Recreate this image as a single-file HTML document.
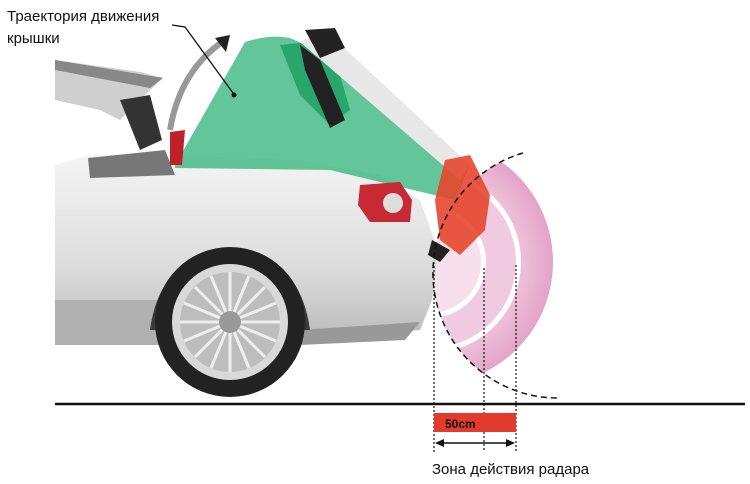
<!DOCTYPE html>
<html><head><meta charset="utf-8"><style>
html,body{margin:0;padding:0;background:#fff;width:750px;height:484px;overflow:hidden}
svg{display:block}
text{font-family:"Liberation Sans","Noto Sans CJK SC",sans-serif}
</style></head><body>
<svg width="750" height="484" viewBox="0 0 750 484" xmlns="http://www.w3.org/2000/svg">
<defs>
<clipPath id="dc"><circle cx="558" cy="273" r="125"/></clipPath>
<linearGradient id="body" x1="0" y1="0" x2="0" y2="1">
<stop offset="0" stop-color="#f4f4f4"/><stop offset="0.6" stop-color="#dcdcdc"/><stop offset="1" stop-color="#b8b8b8"/></linearGradient>
<radialGradient id="pk" cx="430" cy="262" r="123" gradientUnits="userSpaceOnUse">
<stop offset="0.7" stop-color="#f0c4dc"/><stop offset="1" stop-color="#e3a3c9"/></radialGradient>
</defs>
<!-- roof -->
<path d="M55 60 L140 72 L163 78 L145 95 L120 120 L100 110 L55 100Z" fill="#cfcfcf"/>
<path d="M55 60 L163 78 L150 88 L55 70Z" fill="#888"/>
<path d="M120 100 L150 95 L162 140 L140 150Z" fill="#333"/>
<!-- radar bands -->
<g clip-path="url(#dc)">
<circle cx="430" cy="262" r="123" fill="url(#pk)"/>
<circle cx="430" cy="262" r="91" fill="#fff"/>
<circle cx="430" cy="262" r="86" fill="#f0cae0"/>
<circle cx="430" cy="262" r="56" fill="#fff"/>
<circle cx="430" cy="262" r="51" fill="#f7dfec"/>
</g>
<!-- body -->
<path d="M55 165 L90 155 L170 155 L300 160 L380 175 L420 200 L438 250 L432 300 L420 330 L300 340 L160 345 L55 345Z" fill="url(#body)"/>
<path d="M88 158 L165 150 L175 175 L90 178Z" fill="#777"/>
<path d="M55 300 L170 300 L165 345 L55 345Z" fill="#b0b0b0"/>
<path d="M300 330 L420 322 L405 340 L300 345Z" fill="#999"/>
<!-- green sector -->
<path d="M175 165 L245 42 Q270 34 290 38 L340 60 L470 165 L455 200 L330 170 L175 168Z" fill="#2fb178" opacity="0.75"/>
<path d="M280 45 L330 40 L350 110 L330 125 L300 95Z" fill="#1a9d60" opacity="0.8"/>
<!-- lid -->
<path d="M300 42 L325 30 L470 165 L460 180Z" fill="#e8e8e8"/>
<path d="M300 45 L320 60 L345 120 L330 128 L305 70Z" fill="#222"/>
<path d="M305 30 L335 28 L345 48 L320 58Z" fill="#222"/>
<!-- tail lights -->
<path d="M170 132 L185 130 L182 165 L170 165Z" fill="#c0202a"/>
<path d="M360 185 L400 182 L412 200 L410 222 L370 222 L358 205Z" fill="#c82a35"/>
<circle cx="393" cy="203" r="10" fill="#ddd"/>
<path d="M445 160 L470 155 L490 195 L485 230 L460 255 L440 240 L435 200Z" fill="#e5462e" opacity="0.9"/>
<path d="M432 240 L450 250 L440 262 L428 255Z" fill="#222"/>
<!-- wheel -->
<path d="M150 330 Q160 255 230 250 Q300 255 310 330Z" fill="#3a3a3a"/>
<circle cx="230" cy="322" r="75" fill="#222"/>
<circle cx="230" cy="322" r="58" fill="#d9d9d9"/>
<circle cx="230" cy="322" r="50" fill="#bdbdbd"/>
<g stroke="#eee" stroke-width="3">
<line x1="180" y1="322" x2="280" y2="322"/><line x1="230" y1="272" x2="230" y2="372"/>
<line x1="195" y1="287" x2="265" y2="357"/><line x1="265" y1="287" x2="195" y2="357"/>
<line x1="184" y1="303" x2="276" y2="341"/><line x1="184" y1="341" x2="276" y2="303"/>
<line x1="211" y1="276" x2="249" y2="368"/><line x1="249" y1="276" x2="211" y2="368"/>
</g>
<circle cx="230" cy="322" r="11" fill="#999"/>
<!-- trajectory arrow -->
<path d="M170 130 Q180 70 225 40" fill="none" stroke="#999" stroke-width="6"/>
<path d="M215 38 L230 35 L226 52Z" fill="#222"/>
<path d="M172 25 L185 27 L233 93" fill="none" stroke="#111" stroke-width="1.3"/>
<circle cx="234" cy="95" r="2.5" fill="#111"/>
<text x="7" y="21" font-size="15" fill="#111">Траектория движения</text>
<text x="7" y="43" font-size="15" fill="#111">крышки</text>
<!-- dashed arc -->
<path d="M523 153 A125 125 0 0 0 560 398" fill="none" stroke="#111" stroke-width="1.5" stroke-dasharray="6 4"/>
<g stroke="#111" stroke-width="1.2" stroke-dasharray="2 2">
<line x1="434" y1="262" x2="434" y2="452"/><line x1="484" y1="268" x2="484" y2="452"/><line x1="516" y1="265" x2="516" y2="452"/>
</g>
<line x1="55" y1="404" x2="745" y2="404" stroke="#111" stroke-width="2.5"/>
<rect x="434" y="413" width="82" height="19" fill="#e23a2c"/>
<text x="445" y="428" font-size="12" font-weight="bold" fill="#111">50cm</text>
<line x1="440" y1="443" x2="510" y2="443" stroke="#111" stroke-width="1.5"/>
<path d="M435 443 L444 439 L444 447Z M515 443 L506 439 L506 447Z" fill="#111"/>
<text x="432" y="474" font-size="15" fill="#111">Зона действия радара</text>
</svg>
</body></html>
